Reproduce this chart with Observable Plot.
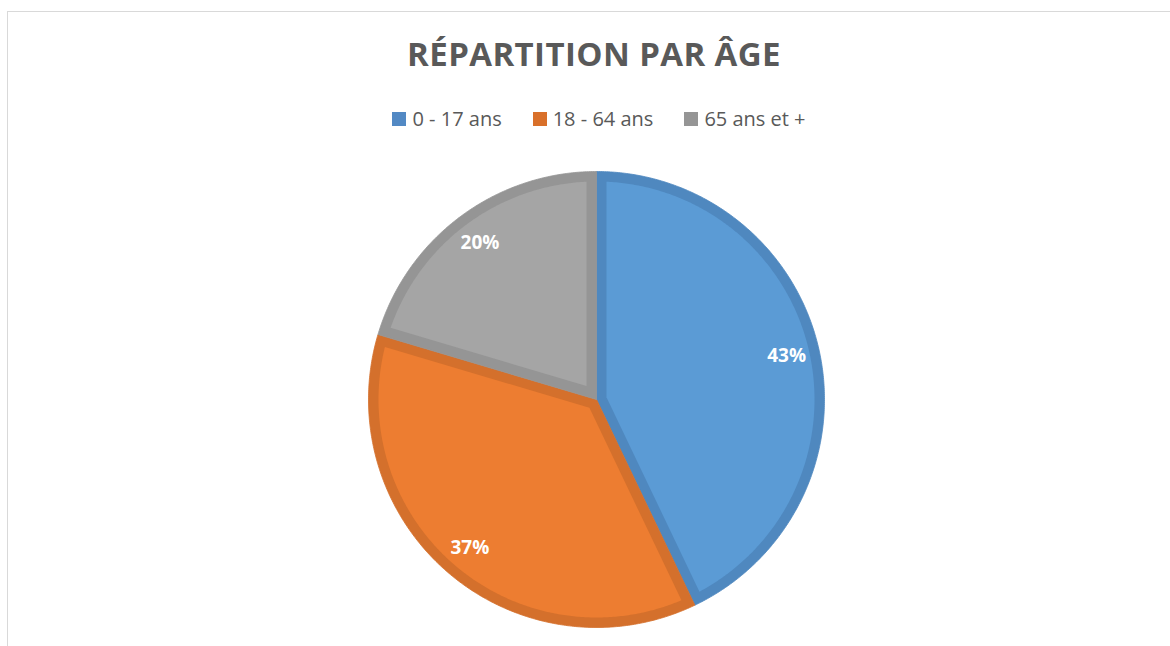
<!DOCTYPE html>
<html>
<head>
<meta charset="utf-8">
<script src="https://cdn.jsdelivr.net/npm/d3@7"></script>
<script src="https://cdn.jsdelivr.net/npm/@observablehq/plot@0.6"></script>
<style>
  html, body { margin: 0; padding: 0; background: #fff; }
  #wrap { position: relative; width: 1170px; height: 646px; overflow: hidden; font-family: "Open Sans", sans-serif; }
  #frame { position: absolute; left: 7px; top: 11px; width: 1300px; height: 800px; border: 1.5px solid #d9d9d9; box-sizing: border-box; }
  #title { position: absolute; left: 0; top: 34px; width: 1188px; text-align: center; font-weight: 700; font-size: 33px; line-height: 40px; color: #595959; letter-spacing: 0.4px; }
  #legend { position: absolute; left: 0; top: 105px; width: 1198px; display: flex; justify-content: center; gap: 31px; font-size: 20px; line-height: 28px; color: #595959; }
  #legend .item { display: flex; align-items: center; }
  #legend .sw { width: 14px; height: 14px; margin-right: 6px; }
  #chart { position: absolute; left: 0; top: 159px; }
</style>
</head>
<body>
<div id="wrap">
  <div id="frame"></div>
  <div id="title">RÉPARTITION PAR ÂGE</div>
  <div id="legend"></div>
  <div id="chart"></div>
</div>
<script>
const categories = ["0 - 17 ans", "18 - 64 ans", "65 ans et +"];
const values = [42.9, 36.7, 20.4];
const fillColors = ["#5b9bd5", "#ed7d31", "#a5a5a5"];
const borderColors = ["#4f88bf", "#d4702c", "#959595"];
const legendColors = ["#5289c4", "#d9702a", "#959595"];

// legend
const legend = document.getElementById("legend");
categories.forEach((c, i) => {
  const it = document.createElement("div");
  it.className = "item";
  it.innerHTML = `<span class="sw" style="background:${legendColors[i]}"></span><span>${c}</span>`;
  legend.appendChild(it);
});

const W = 1170, H = 480, R = 228;
const cx = 596;
const border = 10 / R; // border width in data units
const total = d3.sum(values);

// slice angles (clockwise from 12 o'clock)
let acc = 0;
const slices = values.map((v, i) => {
  const a0 = acc / total * 2 * Math.PI;
  acc += v;
  const a1 = acc / total * 2 * Math.PI;
  return {cat: categories[i], i, a0, a1, value: v, label: Math.round(v / total * 100) + "%"};
});

function arcPts(r, s, e) {
  const n = Math.max(2, Math.ceil((e - s) / (Math.PI / 360)));
  const pts = [];
  for (let k = 0; k <= n; k++) {
    const a = s + (e - s) * k / n;
    pts.push([r * Math.sin(a), r * Math.cos(a)]);
  }
  return pts;
}

const outer = [], inner = [];
slices.forEach(s => {
  const o = [[0, 0], ...arcPts(1, s.a0, s.a1), [0, 0]];
  o.forEach(([x, y]) => outer.push({cat: s.cat, x, y}));
  const th = s.a1 - s.a0, mid = (s.a0 + s.a1) / 2;
  const apexD = border / Math.sin(th / 2);
  const ri = 1 - border;
  const da = Math.asin(border / ri);
  const apex = [apexD * Math.sin(mid), apexD * Math.cos(mid)];
  const p = [apex, ...arcPts(ri, s.a0 + da, s.a1 - da), apex];
  p.forEach(([x, y]) => inner.push({cat: s.cat, x, y}));
});

const labelData = slices.map(s => {
  const mid = (s.a0 + s.a1) / 2;
  return {cat: s.cat, label: s.label, x: 0.855 * Math.sin(mid), y: 0.855 * Math.cos(mid)};
});

const marks = [];
categories.forEach((c, i) => {
  marks.push(Plot.line(outer.filter(d => d.cat === c), {x: "x", y: "y", fill: borderColors[i], stroke: borderColors[i], strokeWidth: 0.8, curve: "linear"}));
});
categories.forEach((c, i) => {
  marks.push(Plot.line(inner.filter(d => d.cat === c), {x: "x", y: "y", fill: fillColors[i], stroke: "none", curve: "linear"}));
});
marks.push(Plot.text(labelData, {x: "x", y: "y", text: "label", fill: "white", fontWeight: "bold", fontSize: 19, fontFamily: "Open Sans, sans-serif"}));

const svg = Plot.plot({
  width: W,
  height: H,
  marginLeft: cx - R,
  marginRight: W - cx - R,
  marginTop: 12,
  marginBottom: 12,
  x: {domain: [-1, 1], axis: null},
  y: {domain: [-1, 1], axis: null},
  style: {background: "transparent", overflow: "visible"},
  marks
});
document.getElementById("chart").appendChild(svg);
</script>
</body>
</html>
